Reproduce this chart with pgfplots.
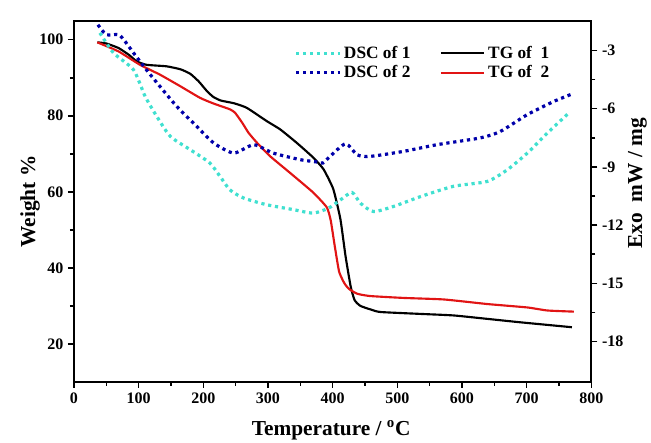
\documentclass[border=0pt]{standalone}
\usepackage{fontspec}
\setmainfont{Liberation Serif}
\usepackage{pgfplots}
\pgfplotsset{compat=1.18}

\definecolor{dsccyan}{RGB}{64,224,208}
\definecolor{dscblue}{RGB}{0,0,170}
\definecolor{tgred}{RGB}{225,20,20}

\pgfplotsset{
  common/.style={
    scale only axis, width=388pt, height=271pt,
    xmin=0, xmax=800,
    tick align=outside,
    major tick length=4.5pt, minor tick length=3pt,
    tick style={line width=1.2pt, black},
    tick label style={font=\fontsize{12}{14}\selectfont\bfseries},
    /pgf/number format/assume math mode=true,
    label style={font=\fontsize{16}{18}\selectfont\bfseries},
    axis line style={line width=1.5pt},
  },
  dsc/.style={line width=2.4pt, dash pattern=on 2.4pt off 2.8pt, smooth, tension=0.4},
  tg/.style={line width=1.6pt, smooth, tension=0.3},
}

\begin{document}
\begin{tikzpicture}
\path[use as bounding box] (-55.5pt,-45.75pt) rectangle (432.75pt,286.5pt);

% left axis: weight loss
\begin{axis}[common, at={(0,0)}, anchor=south west,
  ymin=10, ymax=105,
  xtick={0,100,...,800}, minor x tick num=1,
  ytick={20,40,...,100}, minor y tick num=1,
  xtick pos=bottom, ytick pos=left,
  xlabel={Temperature / \textsuperscript{o}C},
  ylabel={Weight \%},
  xlabel style={at={(axis description cs:0.497,-0.133)}, anchor=center},
  ylabel style={at={(axis description cs:-0.085,0.5)}, anchor=center},
]
\addplot[tg, black] coordinates {
(36,99.3) (50,99) (69,97.8) (85,96) (97,94.3) (112,93.4) (143,93) (165,92.2)
(180,91) (193,89) (205,86.6) (215,85) (227,84) (247,83.3) (267,82.1) (298,78.6)
(319,76.4) (345,72.8) (370,69) (386,65.9) (401,60.7) (412,52.8) (420,43)
(428,35) (434,31.5) (443,30) (460,29) (474,28.4) (536,27.9) (587,27.5)
(639,26.6) (690,25.7) (770,24.4)};
\addplot[tg, tgred] coordinates {
(36,99.3) (69,96.9) (102,93.4) (133,90.8) (164,87.8) (195,84.7) (216,83.2)
(241,81.7) (249,80.8) (260,78.2) (270,75.5) (283,72.9) (303,69.4) (334,65)
(370,59.8) (391,55.9) (397,52.5) (403,46) (410,39) (418,36) (425,34.5)
(438,33.2) (458,32.6) (510,32.1) (572,31.7) (639,30.5) (701,29.6)
(732,28.8) (773,28.5)};
\end{axis}

% right axis: DSC
\begin{axis}[common, at={(0,0)}, anchor=south west,
  ymin=-20.08, ymax=-1.47,
  axis y line*=right, axis x line=none,
  ytick={-18,-15,...,-3}, minor y tick num=1,
  ylabel={Exo\ \ mW / mg},
  ylabel style={at={(axis description cs:1.089,0.55)}, anchor=center},
  legend columns=2,
  legend style={draw=none, fill=none, at={(rel axis cs:0.418,0.945)},
    anchor=north west, font=\fontsize{13}{15}\selectfont\bfseries,
    /tikz/every even column/.append style={column sep=20pt}},
  legend image code/.code={\draw[#1] (0cm,0cm) -- (1.15cm,0cm);},
]
\addplot[dsc, dsccyan] coordinates {
(40,-2.1) (61,-3.13) (92,-4.0) (110,-5.37) (128,-6.4) (149,-7.43) (180,-8.12)
(210,-8.8) (226,-9.5) (241,-10.18) (262,-10.6) (298,-10.95) (339,-11.2)
(370,-11.38) (394,-11.12) (412,-10.7) (430,-10.32) (443,-10.87) (463,-11.3)
(494,-11.04) (536,-10.53) (587,-10.0) (639,-9.75) (670,-9.15) (701,-8.29)
(732,-7.26) (765,-6.23)};
\addlegendentry{DSC of 1}
\addlegendimage{line width=1.6pt, black}
\addlegendentry{TG of\ \ 1}
\addplot[dsc, dscblue] coordinates {
(37,-1.68) (50,-2.19) (69,-2.19) (79,-2.54) (92,-3.13) (112,-4.0) (133,-4.86)
(159,-5.89) (190,-6.92) (216,-7.77) (247,-8.29) (278,-7.86) (308,-8.29)
(350,-8.63) (376,-8.75) (385,-8.8) (396,-8.46) (420,-7.81) (438,-8.38)
(458,-8.46) (510,-8.2) (561,-7.86) (628,-7.51) (659,-7.18) (701,-6.31)
(742,-5.63) (770,-5.25)};
\addlegendentry{DSC of 2}
\addlegendimage{line width=1.6pt, tgred}
\addlegendentry{TG of\ \ 2}
\end{axis}
\end{tikzpicture}
\end{document}
